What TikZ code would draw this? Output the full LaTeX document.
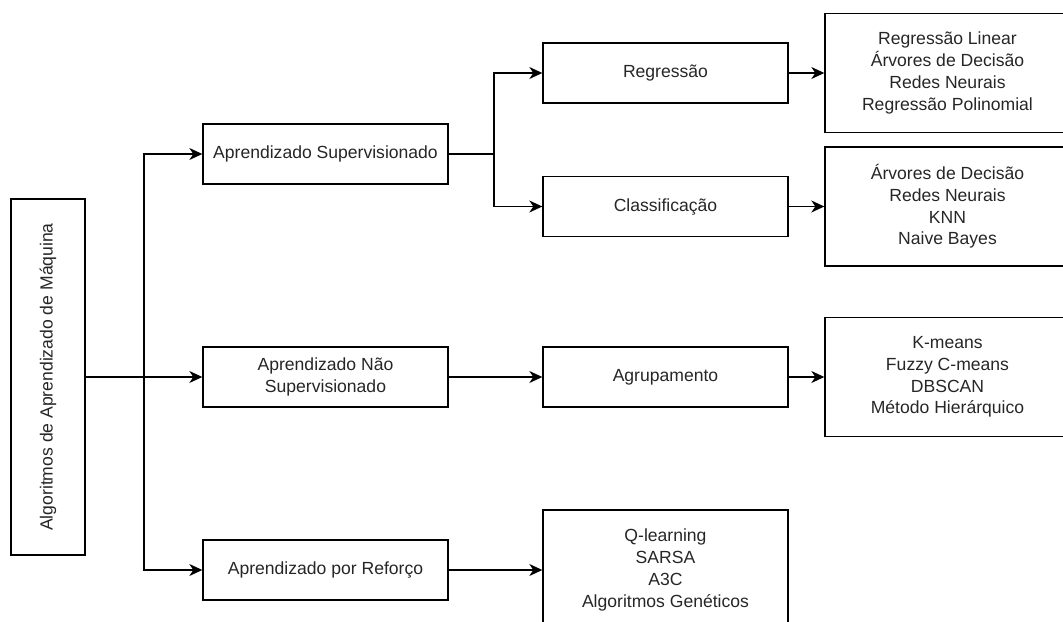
\documentclass[tikz,border=0pt]{standalone}
\usepackage{fontspec}
\setmainfont{Liberation Sans}
\usepackage{graphicx}
\usetikzlibrary{arrows.meta}

\begin{document}
\begin{tikzpicture}[x=0.02cm, y=-0.02cm,
		box/.style={draw, line width=0.8pt, text=black!85, align=center, inner sep=0pt,
			font=\fontsize{10}{12.4}\selectfont, minimum width=4.9cm, minimum height=1.2cm},
		listbox/.style={box, minimum height=2.38cm},
		arr/.style={line width=0.8pt, -{Stealth[length=0.26cm, width=0.24cm, inset=0.08cm]}},
		link/.style={line width=0.8pt}]
	\useasboundingbox (0,0) rectangle (1063,622);
	
	\node[box, minimum width=1.48cm, minimum height=7.12cm] (alg) at (48,377) {\rotatebox{90}{Algoritmos de Aprendizado de Máquina}};
	
	\node[box] (sup) at (325.5,154) {Aprendizado Supervisionado};
	\node[box] (nsup) at (325.5,377) {Aprendizado Não\\Supervisionado};
	\node[box] (refo) at (325.5,570) {Aprendizado por Reforço};
	
	\node[box] (regr) at (665.5,73) {Regressão};
	\node[box] (clas) at (665.5,206.5) {Classificação};
	\node[box] (agrup) at (665.5,377) {Agrupamento};
	\node[listbox, minimum height=2.4cm] (lrefo) at (665.5,570) {Q-learning\\SARSA\\A3C\\Algoritmos Genéticos};
	
	\node[listbox] (lregr) at (947.5,73) {Regressão Linear\\Árvores de Decisão\\Redes Neurais\\Regressão Polinomial};
	\node[listbox] (lclas) at (947.5,206.5) {Árvores de Decisão\\Redes Neurais\\KNN\\Naive Bayes};
	\node[listbox] (lagrup) at (947.5,377) {K-means\\Fuzzy C-means\\DBSCAN\\Método Hierárquico};
	
	\coordinate (split1) at (144,377);
	\coordinate (split2) at (494,154);
	
	\draw[arr] (alg.east) -- (nsup.west);
	\draw[arr] (split1) |- (sup.west);
	\draw[arr] (split1) |- (refo.west);
	
	\draw[link] (sup.east) -- (split2);
	\draw[arr] (split2) |- (regr.west);
	\draw[arr] (split2) |- (clas.west);
	
	\draw[arr] (nsup.east) -- (agrup.west);
	\draw[arr] (refo.east) -- (lrefo.west);
	\draw[arr] (regr.east) -- (lregr.west);
	\draw[arr] (clas.east) -- (lclas.west);
	\draw[arr] (agrup.east) -- (lagrup.west);
\end{tikzpicture}
\end{document}
